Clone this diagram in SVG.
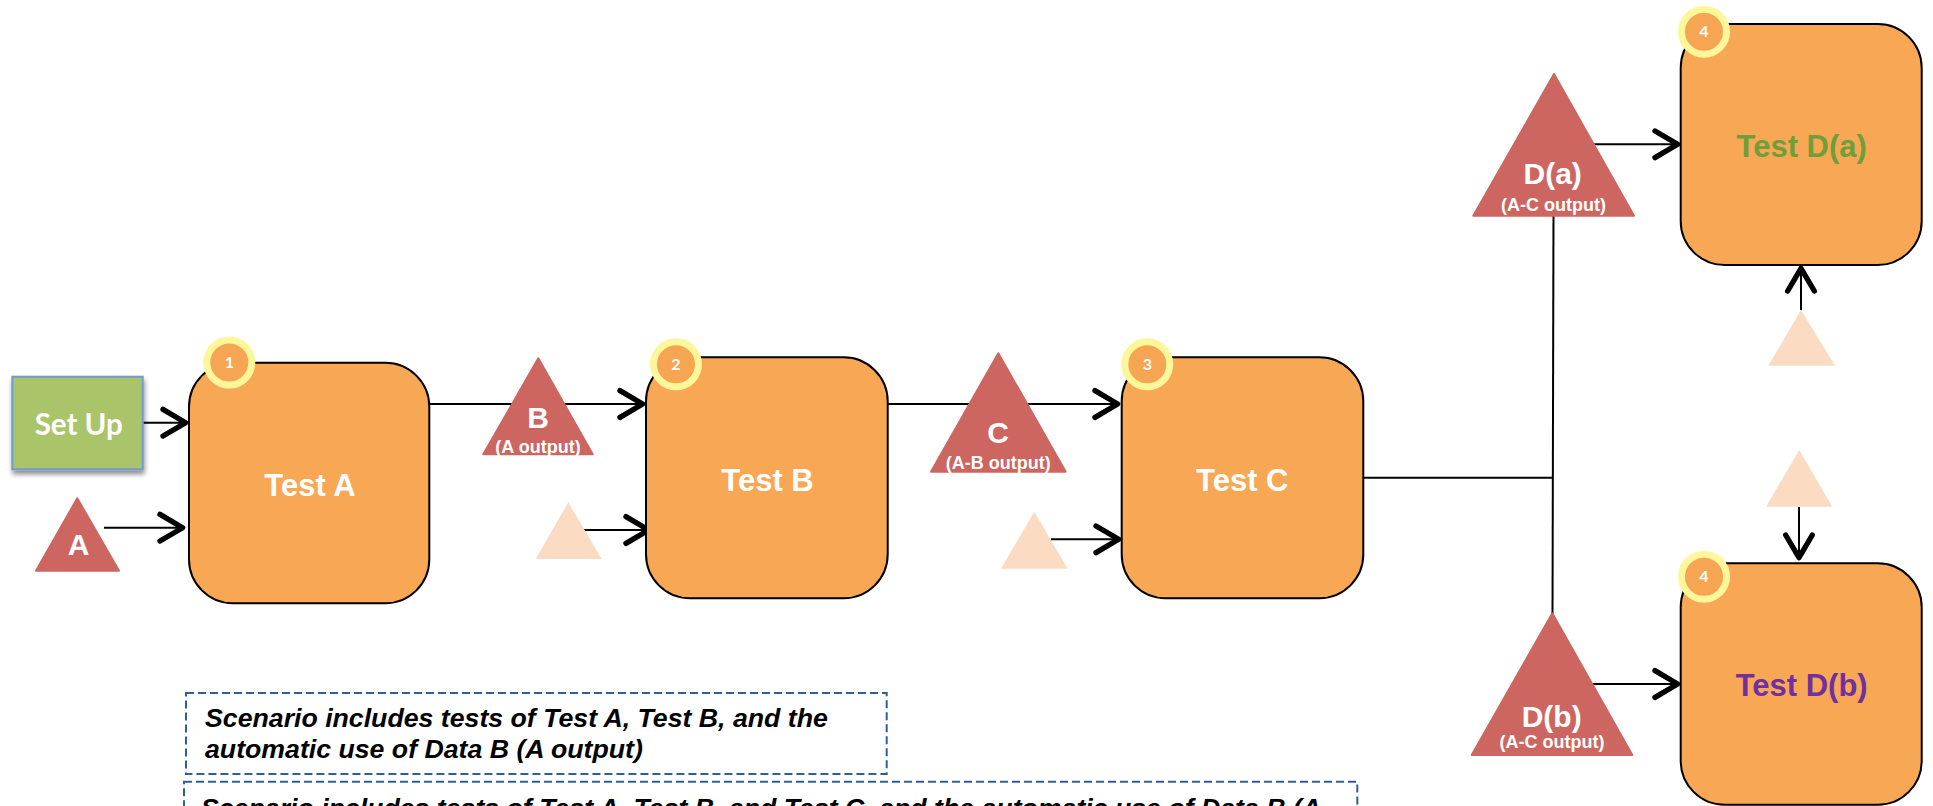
<svg xmlns="http://www.w3.org/2000/svg" width="1933" height="806" viewBox="0 0 1933 806">
<style>
.box{fill:#f8a755;stroke:#000;stroke-width:2}
.lbl{font-family:"Liberation Sans",Arial,sans-serif;font-weight:bold;font-size:31px;text-anchor:middle;fill:#fff}
.tri{fill:#cd6660;stroke:#cd6660;stroke-width:2;stroke-linejoin:round}
.pale{fill:#fbdcc2}
.tl{font-family:"Liberation Sans",Arial,sans-serif;font-weight:bold;font-size:30px;text-anchor:middle;fill:#fff}
.ts{font-family:"Liberation Sans",Arial,sans-serif;font-weight:bold;font-size:18px;text-anchor:middle;fill:#fff}
.badge{fill:#f6a552;stroke:#fdf79a;stroke-width:7}
.bn{font-family:Lato,"Open Sans",sans-serif;font-weight:bold;font-size:16px;text-anchor:middle;fill:#fff}
.con{stroke:#000;stroke-width:2;fill:none}
.note{fill:none;stroke:#2f5f97;stroke-width:2;stroke-dasharray:8 4}
.nt{font-family:"Liberation Sans",Arial,sans-serif;font-weight:bold;font-style:italic;font-size:26.7px;fill:#000}
</style>
<defs>
<marker id="arr" markerUnits="userSpaceOnUse" markerWidth="40" markerHeight="40" viewBox="-22 -15 30 30" refX="1" refY="0" orient="auto" overflow="visible">
<path d="M-17,-10 L0,0 L-17,10" fill="none" stroke="#000" stroke-width="4" stroke-linecap="round" stroke-linejoin="round"/>
</marker>
<filter id="sh" x="-20%" y="-20%" width="140%" height="150%">
<feGaussianBlur in="SourceAlpha" stdDeviation="2.5"/>
<feOffset dx="1" dy="4" result="b"/>
<feComponentTransfer><feFuncA type="linear" slope="0.45"/></feComponentTransfer>
<feMerge><feMergeNode/><feMergeNode in="SourceGraphic"/></feMerge>
</filter>
</defs>

<g id="connectors">
<line class="con" x1="143" y1="422.7" x2="187" y2="422.7" marker-end="url(#arr)"/>
<line class="con" x1="104" y1="527.7" x2="184" y2="527.7" marker-end="url(#arr)"/>
<line class="con" x1="429" y1="404" x2="644" y2="404" marker-end="url(#arr)"/>
<line class="con" x1="584" y1="530" x2="650" y2="530" marker-end="url(#arr)"/>
<line class="con" x1="888" y1="404" x2="1119" y2="404" marker-end="url(#arr)"/>
<line class="con" x1="1051" y1="539.3" x2="1120" y2="539.3" marker-end="url(#arr)"/>
<line class="con" x1="1363" y1="477.7" x2="1553" y2="477.7"/>
<line class="con" x1="1553.5" y1="212" x2="1552.5" y2="614"/>
<line class="con" x1="1593" y1="144.3" x2="1679" y2="144.3" marker-end="url(#arr)"/>
<line class="con" x1="1591.7" y1="684" x2="1679" y2="684" marker-end="url(#arr)"/>
<line class="con" x1="1801" y1="310" x2="1801" y2="267" marker-end="url(#arr)"/>
<line class="con" x1="1799" y1="507" x2="1799" y2="559" marker-end="url(#arr)"/>
</g>

<g id="setup">
<rect x="12.3" y="376.7" width="130.4" height="92.6" fill="#aac46b" stroke="#6f9bd1" stroke-width="2" filter="url(#sh)"/>
<text x="78.7" y="435" style="font-family:Lato,'Open Sans',sans-serif;font-weight:bold;font-size:29.5px;text-anchor:middle;fill:#fff">Set Up</text>
</g>

<g id="data-a">
<polygon class="tri" points="77.3,498.3 119,570.7 36,570.7"/>
<text class="tl" x="78.5" y="555">A</text>
</g>

<g id="test-a">
<rect class="box" x="189" y="362.7" width="240.3" height="240.6" rx="44"/>
<text class="lbl" x="310" y="496">Test A</text>
<circle class="badge" cx="229.3" cy="362.5" r="22.5"/>
<text class="bn" x="229.3" y="368.2">1</text>
</g>

<g id="data-b">
<polygon class="tri" points="538.3,358.3 592.7,454.3 483.3,454.3"/>
<text class="tl" x="538" y="428.3">B</text>
<text class="ts" x="538" y="452.7">(A output)</text>
</g>

<g id="input-b">
<polygon class="pale" points="568.3,502.3 601.7,559 535.7,559"/>
</g>

<g id="test-b">
<rect class="box" x="646" y="357.3" width="241.7" height="241" rx="44"/>
<text class="lbl" x="767.5" y="490.7">Test B</text>
<circle class="badge" cx="676" cy="364.3" r="22.5"/>
<text class="bn" x="676" y="370">2</text>
</g>

<g id="data-c">
<polygon class="tri" points="998.3,353.3 1065.7,471.7 931,471.7"/>
<text class="tl" x="998" y="442.7">C</text>
<text class="ts" x="998.3" y="469.3">(A-B output)</text>
</g>

<g id="input-c">
<polygon class="pale" points="1034.3,511.7 1067.7,568.7 1001,568.7"/>
</g>

<g id="test-c">
<rect class="box" x="1121.7" y="357.3" width="241.6" height="241" rx="44"/>
<text class="lbl" x="1242.3" y="491">Test C</text>
<circle class="badge" cx="1147.3" cy="364.3" r="22.5"/>
<text class="bn" x="1147.3" y="370">3</text>
</g>

<g id="data-da">
<polygon class="tri" points="1554,74 1634,215.7 1473.3,215.7"/>
<text class="tl" x="1552.7" y="184.3">D(a)</text>
<text class="ts" x="1553.5" y="211">(A-C output)</text>
</g>

<g id="data-db">
<polygon class="tri" points="1552.3,613.3 1632.3,755 1471.7,755"/>
<text class="tl" x="1551.7" y="726.7">D(b)</text>
<text class="ts" x="1552" y="748.3">(A-C output)</text>
</g>

<g id="input-da">
<polygon class="pale" points="1801,310 1835,365.7 1768.3,365.7"/>
</g>

<g id="input-db">
<polygon class="pale" points="1799.3,450 1832.3,506.7 1766,506.7"/>
</g>

<g id="test-da">
<rect class="box" x="1680.7" y="24" width="241" height="241" rx="44"/>
<text class="lbl" x="1801.7" y="156.7" style="fill:#6f9e3b">Test D(a)</text>
<circle class="badge" cx="1704" cy="31.7" r="22.5"/>
<text class="bn" x="1704" y="37.4">4</text>
</g>

<g id="test-db">
<rect class="box" x="1680.7" y="563.3" width="241" height="241.5" rx="44"/>
<text class="lbl" x="1801.7" y="696" style="fill:#7030a0">Test D(b)</text>
<circle class="badge" cx="1704" cy="576.7" r="22.5"/>
<text class="bn" x="1704" y="582.4">4</text>
</g>

<g id="note-1">
<rect class="note" x="186" y="693" width="700.7" height="81"/>
<text class="nt" x="205" y="726.7">Scenario includes tests of Test A, Test B, and the</text>
<text class="nt" x="205" y="757.7">automatic use of Data B (A output)</text>
</g>

<g id="note-2">
<rect class="note" x="184" y="781.7" width="1173.3" height="100"/>
<text class="nt" x="201" y="817">Scenario includes tests of Test A, Test B, and Test C, and the automatic use of Data B (A</text>
</g>
</svg>
